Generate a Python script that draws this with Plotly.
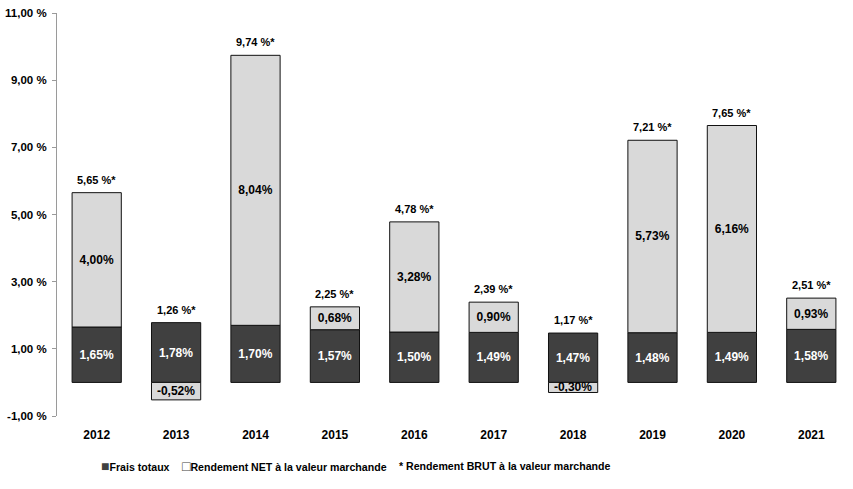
import plotly.graph_objects as go

years = ["2012", "2013", "2014", "2015", "2016", "2017", "2018", "2019", "2020", "2021"]
frais = [1.65, 1.78, 1.70, 1.57, 1.50, 1.49, 1.47, 1.48, 1.49, 1.58]
net = [4.00, -0.52, 8.04, 0.68, 3.28, 0.90, -0.30, 5.73, 6.16, 0.93]
brut = [5.65, 1.26, 9.74, 2.25, 4.78, 2.39, 1.17, 7.21, 7.65, 2.51]
ytick_vals = [-1, 1, 3, 5, 7, 9, 11]
legend_items = ["Frais totaux", "Rendement NET à la valeur marchande", "Rendement BRUT à la valeur marchande"]

def fr(v, sep=""):
    return f"{v:.2f}".replace(".", ",") + sep + "%"

FONT = "Liberation Sans, Arial, sans-serif"
DARK = "#404040"
LIGHT = "#d9d9d9"
L, R, T, B = 57, 2, 13, 73
PW = 853 - L - R
PH = 489 - T - B

tops = [f + max(n, 0) for f, n in zip(frais, net)]

fig = go.Figure()
fig.add_trace(go.Bar(
    x=years, y=frais, name=legend_items[0],
    marker=dict(color=DARK, line=dict(color="#111111", width=1)),
    text=[fr(v) for v in frais], textposition="inside", insidetextanchor="middle",
    textfont=dict(color="white", size=12, family=FONT, weight="bold"), textangle=0,
    constraintext="none", cliponaxis=False,
    width=0.62, showlegend=False, hoverinfo="skip",
))
fig.add_trace(go.Bar(
    x=years, y=net, name=legend_items[1],
    marker=dict(color=LIGHT, line=dict(color="#111111", width=1)),
    text=[fr(v) for v in net], textposition="inside", insidetextanchor="middle",
    textfont=dict(color="black", size=12, family=FONT, weight="bold"), textangle=0,
    constraintext="none", cliponaxis=False,
    width=0.62, showlegend=False, hoverinfo="skip",
))

annotations = []
for i, (top, b) in enumerate(zip(tops, brut)):
    annotations.append(dict(
        x=i, y=top, xref="x", yref="y", yanchor="bottom", yshift=5,
        showarrow=False, text=fr(b, " ") + "*",
        font=dict(size=11, family=FONT, color="black", weight="bold"),
    ))

legend_x = [99, 180, 397]
legend_text = [
    f"<span style='color:{DARK};font-size:14px'>■</span>{legend_items[0]}",
    f"<span style='color:#444444;font-size:14px'>□</span>{legend_items[1]}",
    f"* {legend_items[2]}",
]
for lx, lt in zip(legend_x, legend_text):
    annotations.append(dict(
        xref="paper", yref="paper", x=(lx - L) / PW, y=-(466 - T - PH) / PH,
        xanchor="left", yanchor="middle", showarrow=False, text=lt,
        font=dict(size=10.6, family=FONT, color="black", weight="bold"),
    ))

fig.update_layout(
    width=853, height=489,
    margin=dict(l=L, r=R, t=T, b=B),
    paper_bgcolor="white", plot_bgcolor="white",
    barmode="relative", bargap=0.38,
    font=dict(family=FONT, color="black"),
    xaxis=dict(
        type="category", categoryarray=years, range=[-0.5, 9.5],
        showline=False, ticks="", showgrid=False, zeroline=False,
        tickfont=dict(size=12, family=FONT, color="black", weight="bold"),
        ticklabelstandoff=10, automargin=False,
    ),
    xaxis2=dict(
        overlaying="x", anchor="free", position=1/12, type="linear",
        range=[-0.5, 9.5], tickvals=[i + 0.5 for i in range(-1, len(years))],
        showticklabels=False, showline=True, linecolor="#9a9a9a", linewidth=1,
        ticks="outside", ticklen=4, tickcolor="#9a9a9a", showgrid=False, zeroline=False,
        automargin=False,
    ),
    yaxis=dict(
        range=[-1, 11], tickvals=ytick_vals,
        ticktext=[fr(v, " ") for v in ytick_vals],
        showline=True, linecolor="#9a9a9a", linewidth=1,
        ticks="outside", ticklen=4, tickcolor="#9a9a9a",
        showgrid=False, zeroline=False,
        tickfont=dict(size=11.5, family=FONT, color="black", weight="bold"),
        ticklabelstandoff=3, automargin=False,
    ),
    annotations=annotations,
)

fig.write_html(
    "out.html",
    config={"displayModeBar": False},
    post_script="document.body.style.margin='0';",
)
